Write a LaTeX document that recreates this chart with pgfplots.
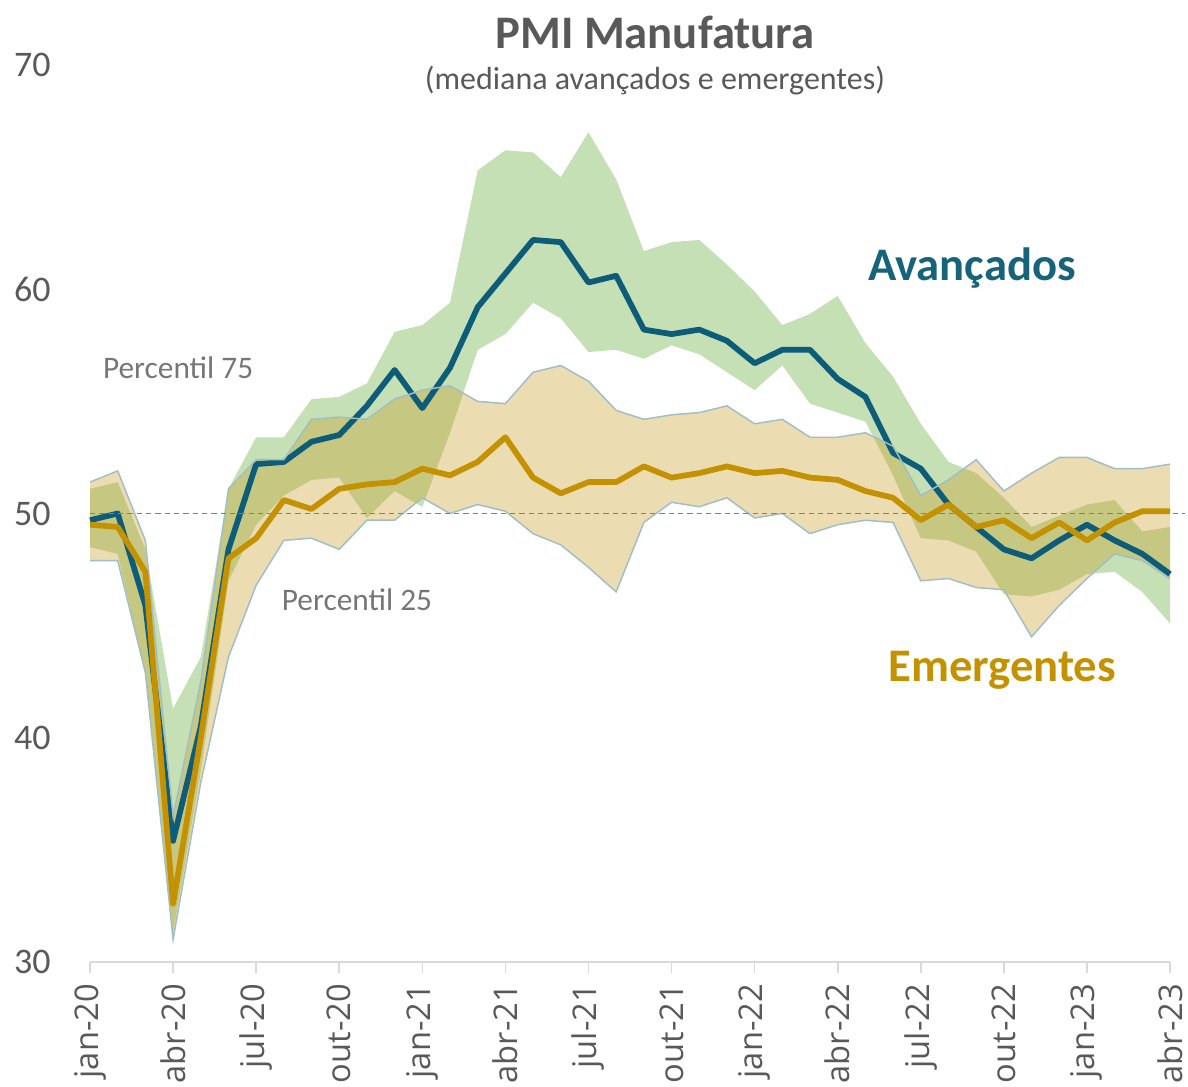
\documentclass[border=0pt]{standalone}
\usepackage{fontspec}
\setmainfont{Carlito}
\newfontfamily\tickfont{Open Sans}
\usepackage{pgfplots}
\pgfplotsset{compat=1.18}
\usepackage{pgfplotstable}
\usepgfplotslibrary{fillbetween}

\definecolor{avline}{RGB}{12,92,122}
\definecolor{avtext}{RGB}{23,100,122}
\definecolor{emline}{RGB}{196,146,0}
\definecolor{gband}{RGB}{197,224,180}
\definecolor{yband}{RGB}{200,158,40}
\definecolor{bordc}{RGB}{160,190,198}
\definecolor{txtgrey}{RGB}{89,89,89}
\definecolor{lblgrey}{RGB}{118,118,118}
\definecolor{axgrey}{RGB}{217,217,217}

\pgfplotstableread{
x gU gL yU yL av em
0 51.1 48.5 51.4 47.9 49.7 49.5
1 51.4 48.2 51.9 47.9 50.0 49.4
2 48.4 42.8 48.8 42.9 45.9 47.4
3 41.3 31.3 36.5 31.0 35.4 32.6
4 43.6 38.5 42.5 38.0 40.5 40.0
5 51.1 47.0 51.1 43.6 48.4 48.0
6 53.4 49.5 52.4 46.8 52.2 48.9
7 53.4 50.8 52.4 48.8 52.3 50.6
8 55.1 51.5 54.2 48.9 53.2 50.2
9 55.2 51.6 54.3 48.4 53.5 51.1
10 55.8 49.8 54.2 49.7 54.8 51.3
11 58.1 51.0 55.1 49.7 56.4 51.4
12 58.4 50.3 55.5 50.7 54.7 52.0
13 59.4 53.6 55.7 50.0 56.5 51.7
14 65.3 57.3 55.0 50.4 59.2 52.3
15 66.2 58.0 54.9 50.1 60.7 53.4
16 66.1 59.4 56.3 49.1 62.2 51.6
17 65.0 58.7 56.6 48.6 62.1 50.9
18 67.0 57.2 55.9 47.6 60.3 51.4
19 64.9 57.3 54.6 46.5 60.6 51.4
20 61.7 56.9 54.2 49.6 58.2 52.1
21 62.1 57.5 54.4 50.5 58.0 51.6
22 62.2 57.1 54.5 50.3 58.2 51.8
23 61.1 56.3 54.8 50.7 57.7 52.1
24 59.9 55.5 54.0 49.8 56.7 51.8
25 58.4 56.6 54.2 50.0 57.3 51.9
26 58.9 54.9 53.4 49.1 57.3 51.6
27 59.7 54.5 53.4 49.5 56.0 51.5
28 57.6 54.1 53.6 49.7 55.2 51.0
29 56.1 51.7 53.0 49.6 52.7 50.7
30 54.0 48.9 50.8 47.0 52.0 49.7
31 52.3 48.8 51.5 47.1 50.4 50.4
32 51.8 48.3 52.4 46.7 49.4 49.4
33 50.7 46.4 51.0 46.6 48.4 49.7
34 49.4 46.3 51.8 44.5 48.0 48.9
35 49.9 46.6 52.5 45.9 48.8 49.6
36 50.4 47.3 52.5 47.1 49.5 48.8
37 50.6 47.4 52.0 48.2 48.8 49.6
38 49.2 46.5 52.0 47.9 48.2 50.1
39 49.4 45.1 52.2 47.1 47.3 50.1
}\data

\begin{document}
\begin{tikzpicture}
\begin{axis}[
  at={(0pt,0pt)}, anchor=south west,
  scale only axis, width=810pt, height=672.75pt,
  xmin=0, xmax=39, ymin=30, ymax=70,
  clip=false,
  axis x line*=bottom, axis y line*=left,
  y axis line style={draw=none},
  x axis line style={draw=axgrey, line width=1.5pt},
  ytick={30,40,50,60,70},
  ytick style={draw=none},
  xtick={0,3,...,39},
  xticklabels={jan-20,abr-20,jul-20,out-20,jan-21,abr-21,jul-21,out-21,jan-22,abr-22,jul-22,out-22,jan-23,abr-23},
  xtick style={draw=axgrey, line width=1.2pt},
  tick align=outside, major tick length=8pt,
  xticklabel shift=5pt,
  xticklabel style={rotate=90, anchor=east, font=\tickfont\fontsize{24.5}{24.5}\selectfont, text=txtgrey},
  yticklabel style={font=\fontsize{27}{27}\selectfont, text=txtgrey, xshift=-18pt},
  /pgf/number format/assume math mode=true,
]
\addplot[name path=gU, draw=none] table[x=x,y=gU]{\data};
\addplot[name path=gL, draw=none] table[x=x,y=gL]{\data};
\addplot[fill=gband, draw=none] fill between[of=gU and gL];
\addplot[avline, line width=4.3pt, line join=round] table[x=x,y=av]{\data};
\addplot[name path=yU, draw=none] table[x=x,y=yU]{\data};
\addplot[name path=yL, draw=none] table[x=x,y=yL]{\data};
\addplot[fill=yband, fill opacity=0.36, draw=none] fill between[of=yU and yL];
\addplot[bordc, line width=1.1pt] table[x=x,y=yU]{\data};
\addplot[bordc, line width=1.1pt] table[x=x,y=yL]{\data};
\addplot[gray, line width=0.8pt, dash pattern=on 4pt off 3pt] coordinates {(0,50) (39.55,50)};
\addplot[emline, line width=4.3pt, line join=round] table[x=x,y=em]{\data};

\node[font=\fontsize{35}{35}\selectfont\bfseries, text=txtgrey] at (axis cs:20.4,71.47) {PMI Manufatura};
\node[font=\fontsize{24}{24}\selectfont, text=txtgrey] at (axis cs:20.4,69.3) {(mediana avançados e emergentes)};
\node[font=\fontsize{35}{35}\selectfont\bfseries, text=avtext] at (axis cs:31.85,60.95) {Avançados};
\node[font=\fontsize{35}{35}\selectfont\bfseries, text=emline] at (axis cs:32.94,43.02) {Emergentes};
\node[font=\fontsize{23.5}{23.5}\selectfont, text=lblgrey] at (axis cs:3.18,56.49) {Percentil 75};
\node[font=\fontsize{23.5}{23.5}\selectfont, text=lblgrey] at (axis cs:9.64,46.14) {Percentil 25};
\end{axis}
\pgfresetboundingbox
\path[use as bounding box] (-67.5pt,-93pt) rectangle (823.5pt,721.5pt);
\end{tikzpicture}
\end{document}
